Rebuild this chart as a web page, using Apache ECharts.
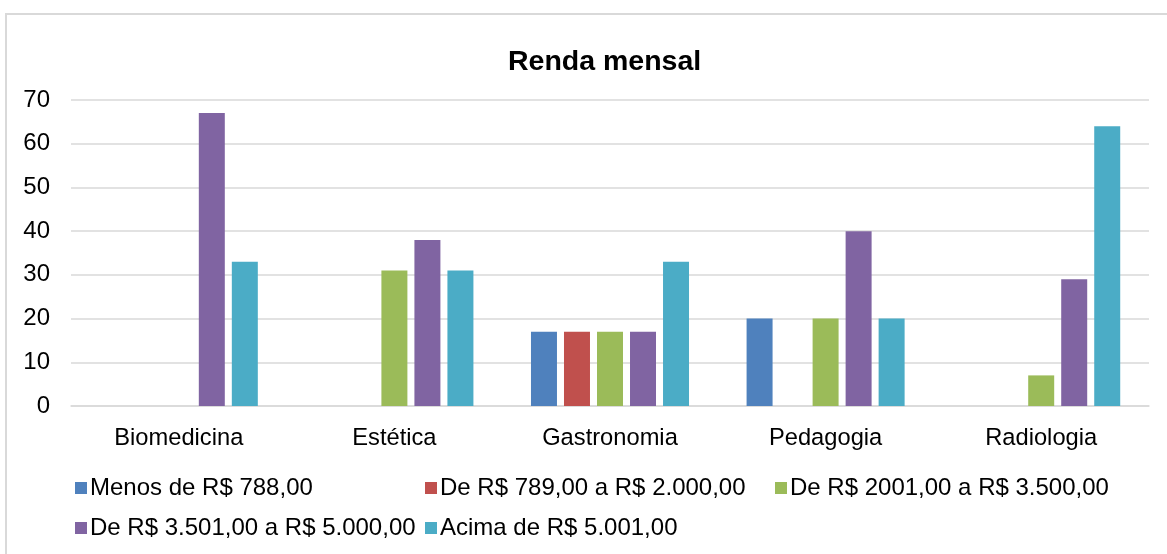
<!DOCTYPE html>
<html>
<head>
<meta charset="utf-8">
<script src="https://cdn.jsdelivr.net/npm/echarts@6/dist/echarts.min.js"></script>
<style>
  html, body { margin: 0; padding: 0; background: #fff; }
  #chart { width: 1167px; height: 554px; }
</style>
</head>
<body>
<div id="chart"></div>
<script>
// dados do gráfico
const cursos = ['Biomedicina', 'Estética', 'Gastronomia', 'Pedagogia', 'Radiologia']
const faixas = [
  'Menos de R$ 788,00',
  'De R$ 789,00 a R$ 2.000,00',
  'De R$ 2001,00 a R$ 3.500,00',
  'De R$ 3.501,00 a R$ 5.000,00',
  'Acima de R$ 5.001,00'
]
const menos788 = [0, 0, 17, 20, 0]
const de789a2000 = [0, 0, 17, 0, 0]
const de2001a3500 = [0, 31, 17, 20, 7]
const de3501a5000 = [67, 38, 17, 40, 29]
const acima5001 = [33, 31, 33, 20, 64]
const cores = ['#4F81BD', '#C0504D', '#9BBB59', '#8064A2', '#4BACC6']

const valores = [menos788, de789a2000, de2001a3500, de3501a5000, acima5001]
const fonte = 'Liberation Sans, Arial, sans-serif'

const chart = echarts.init(document.getElementById('chart'))

const option = {
  animation: false,
  textStyle: { fontFamily: fonte },
  graphic: [
    {
      type: 'rect',
      shape: { x: 6, y: 14, width: 1200, height: 600 },
      style: { fill: 'none', stroke: '#d9d9d9', lineWidth: 2 },
      silent: true
    }
  ],
  title: {
    text: 'Renda mensal',
    left: 508,
    top: 48,
    padding: 0,
    textStyle: {
      fontFamily: fonte,
      fontSize: 28.5,
      fontWeight: 'bold',
      color: '#000'
    }
  },
  legend: {
    data: faixas,
    left: 75,
    top: 470,
    width: 1070,
    padding: 0,
    itemWidth: 12,
    itemHeight: 12,
    itemGap: 4,
    icon: 'rect',
    textStyle: {
      fontFamily: fonte,
      fontSize: 24,
      color: '#000',
      width: 331,
      lineHeight: 36,
      padding: [0, 0, 0, -2]
    }
  },
  grid: {
    left: 71,
    right: 18,
    top: 100,
    bottom: 148
  },
  xAxis: {
    type: 'category',
    data: cursos,
    axisLine: { lineStyle: { color: '#d9d9d9', width: 1.5 } },
    axisTick: { show: false },
    axisLabel: {
      fontFamily: fonte,
      fontSize: 23.7,
      color: '#000',
      margin: 20
    }
  },
  yAxis: {
    type: 'value',
    min: 0,
    max: 70,
    interval: 10,
    axisLine: { show: false },
    axisTick: { show: false },
    splitLine: { lineStyle: { color: '#d9d9d9', width: 1.5 } },
    axisLabel: {
      fontFamily: fonte,
      fontSize: 24,
      color: '#000',
      margin: 21
    }
  },
  series: faixas.map((nome, i) => ({
    name: nome,
    type: 'bar',
    data: valores[i],
    barGap: '27%',
    barCategoryGap: '26.7%',
    itemStyle: { color: cores[i] }
  }))
}

chart.setOption(option)
</script>
</body>
</html>
